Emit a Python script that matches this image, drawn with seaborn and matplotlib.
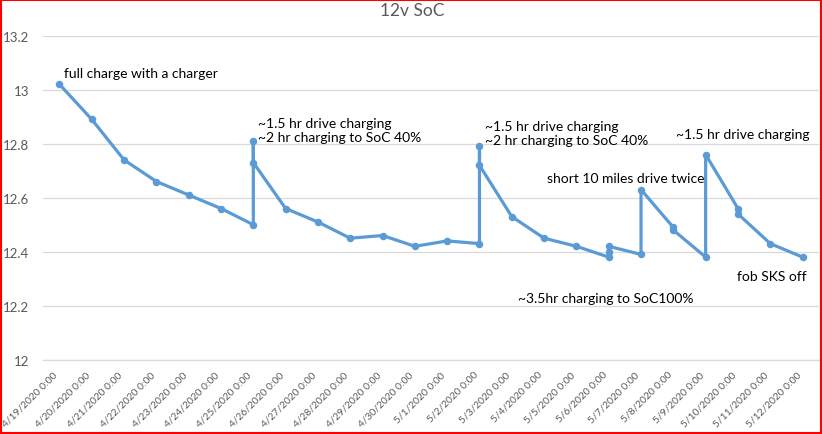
import matplotlib.pyplot as plt
import matplotlib.dates as mdates
from matplotlib.patches import Rectangle
from matplotlib.ticker import FixedLocator
import seaborn as sns
import pandas as pd

# readings (several per day where the battery was charged)
reading_days = ['4/19', '4/20', '4/21', '4/22', '4/23', '4/24',
                '4/25', '4/25', '4/25', '4/26', '4/27', '4/28', '4/29', '4/30',
                '5/1', '5/2', '5/2', '5/2', '5/3', '5/4', '5/5',
                '5/6', '5/6', '5/6', '5/7', '5/7', '5/8', '5/8',
                '5/9', '5/9', '5/10', '5/10', '5/11', '5/12']
voltage = [13.02, 12.89, 12.74, 12.66, 12.61, 12.56,
           12.50, 12.81, 12.73, 12.56, 12.51, 12.45, 12.46, 12.42,
           12.44, 12.43, 12.79, 12.72, 12.53, 12.45, 12.42,
           12.38, 12.40, 12.42, 12.39, 12.63, 12.49, 12.48,
           12.38, 12.76, 12.56, 12.54, 12.43, 12.38]

# notes and the reading (index into the lists above) they belong to
note_texts = ['full charge with a charger',
              '~1.5 hr drive charging\n~2 hr charging to SoC 40%',
              '~1.5 hr drive charging\n~2 hr charging to SoC 40%',
              'short 10 miles drive twice',
              '~1.5 hr drive charging',
              'fob SKS off',
              '~3.5hr charging to SoC100%']
note_points = [0, 7, 16, 25, 29, 33, 21]
# label offsets from the point (pixels) and horizontal alignment
note_offsets = [(81.5, 11.7), (5, 10.8), (6, 13.7), (-15, 11.6),
                (37, 21), (-31, -18.4), (-3.4, -41.3)]
note_align = ['center', 'left', 'left', 'center', 'center', 'center', 'center']

y_ticks = [12, 12.2, 12.4, 12.6, 12.8, 13, 13.2]
y_tick_labels = ['12', '12.2', '12.4', '12.6', '12.8', '13', '13.2']

dates = pd.to_datetime([d + '/2020' for d in reading_days], format='%m/%d/%Y')
df = pd.DataFrame({'date': dates, 'voltage': voltage})
days = pd.date_range(dates.min(), dates.max(), freq='D')
day_labels = [f'{d.month}/{d.day}/{d.year} 0:00' for d in days]

sns.set_style('white')
plt.rcParams['font.family'] = ['Lato', 'DejaVu Sans']

grey = '#595959'
blue = '#5B9BD5'

fig = plt.figure(figsize=(8.22, 4.35), dpi=100)
ax = fig.add_axes([0.0527, 0.1708, 0.9433, 0.7448])

sns.lineplot(data=df, x='date', y='voltage', sort=False, estimator=None,
             color=blue, linewidth=2.3, marker='o', markersize=5.4,
             markeredgewidth=0, ax=ax)

half = pd.Timedelta(hours=12)
ax.set_xlim(days[0] - half, days[-1] + half)
ax.set_ylim(12, 13.2)
ax.set_yticks(y_ticks)
ax.set_yticklabels(y_tick_labels)

ax.xaxis.set_major_locator(FixedLocator(mdates.date2num(days)))
ax.set_xticklabels(day_labels, rotation=45, ha='right', va='top')
bounds = [d - half for d in days] + [days[-1] + half]
ax.xaxis.set_minor_locator(FixedLocator(mdates.date2num(bounds)))
ax.tick_params(axis='x', which='major', length=0, pad=7, labelsize=7.4,
               labelcolor=grey)
ax.tick_params(axis='x', which='minor', length=4, width=0.8,
               color='#D9D9D9', direction='out')
ax.tick_params(axis='y', length=0, pad=10, labelsize=9.5, labelcolor=grey)

ax.grid(axis='y', color='#D9D9D9', linewidth=0.9)
ax.set_axisbelow(True)
for side in ['left', 'right', 'top']:
    ax.spines[side].set_visible(False)
ax.spines['bottom'].set_color('#D9D9D9')
ax.spines['bottom'].set_linewidth(0.9)
ax.set_xlabel('')
ax.set_ylabel('')

for text, idx, off, ha in zip(note_texts, note_points, note_offsets, note_align):
    ax.annotate(text, xy=(df['date'][idx], df['voltage'][idx]),
                xytext=off, textcoords='offset pixels',
                ha=ha, va='center', multialignment='left',
                fontsize=10, color='black', linespacing=1.22)

fig.text(0.5012, 1 - 11 / 435, '12v SoC', ha='center', va='center',
         fontsize=12.5, color=grey)

fig.patches.append(Rectangle((0.0008, 0.0015), 0.9978, 0.997,
                             transform=fig.transFigure, fill=False,
                             edgecolor='red', linewidth=1.5))

fig.savefig('out.png', dpi=100)
